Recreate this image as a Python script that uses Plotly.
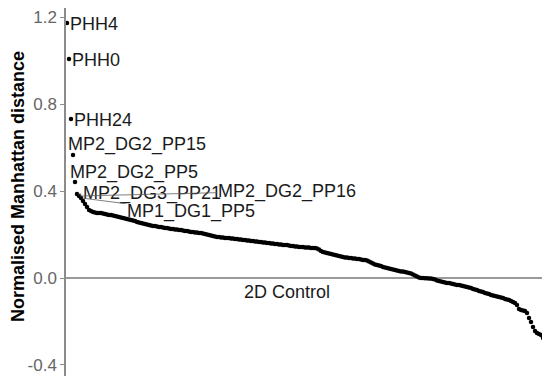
import plotly.graph_objects as go

# Normalised Manhattan distance, ranked (descending)
values = [
    1.172, 1.007, 0.731, 0.566, 0.441, 0.386, 0.377, 0.368, 0.354, 0.340,
    0.326, 0.313, 0.308, 0.303, 0.301, 0.299, 0.299, 0.299, 0.297, 0.294,
    0.292, 0.290, 0.290, 0.287, 0.285, 0.283, 0.280, 0.278, 0.276, 0.274,
    0.271, 0.269, 0.267, 0.264, 0.262, 0.257, 0.255, 0.253, 0.251, 0.248,
    0.246, 0.244, 0.241, 0.239, 0.239, 0.237, 0.234, 0.234, 0.232, 0.230,
    0.230, 0.228, 0.225, 0.225, 0.223, 0.223, 0.221, 0.221, 0.218, 0.216,
    0.216, 0.214, 0.211, 0.211, 0.209, 0.209, 0.207, 0.207, 0.205, 0.202,
    0.200, 0.198, 0.195, 0.193, 0.191, 0.189, 0.189, 0.186, 0.186, 0.184,
    0.184, 0.184, 0.182, 0.182, 0.179, 0.179, 0.177, 0.177, 0.175, 0.175,
    0.172, 0.172, 0.170, 0.170, 0.168, 0.168, 0.166, 0.166, 0.163, 0.163,
    0.161, 0.161, 0.159, 0.159, 0.156, 0.156, 0.154, 0.154, 0.152, 0.152,
    0.152, 0.149, 0.147, 0.147, 0.145, 0.145, 0.143, 0.143, 0.143, 0.140,
    0.140, 0.140, 0.138, 0.138, 0.138, 0.136, 0.131, 0.124, 0.120, 0.117,
    0.115, 0.113, 0.110, 0.108, 0.106, 0.103, 0.101, 0.099, 0.097, 0.094,
    0.094, 0.092, 0.092, 0.090, 0.090, 0.087, 0.087, 0.085, 0.083, 0.083,
    0.080, 0.076, 0.071, 0.067, 0.062, 0.060, 0.057, 0.055, 0.051, 0.048,
    0.046, 0.044, 0.041, 0.039, 0.037, 0.034, 0.032, 0.030, 0.030, 0.028,
    0.025, 0.023, 0.021, 0.016, 0.011, 0.007, 0.002, 0.000, 0.000, -0.001,
    -0.001, -0.002, -0.002, -0.005, -0.007, -0.011, -0.014, -0.016, -0.018, -0.021,
    -0.023, -0.023, -0.025, -0.028, -0.030, -0.032, -0.032, -0.034, -0.037, -0.039,
    -0.041, -0.044, -0.046, -0.051, -0.053, -0.055, -0.060, -0.062, -0.064, -0.069,
    -0.071, -0.074, -0.078, -0.080, -0.083, -0.085, -0.087, -0.090, -0.092, -0.097,
    -0.099, -0.101, -0.106, -0.110, -0.115, -0.124, -0.143, -0.147, -0.149, -0.152,
    -0.161, -0.184, -0.202, -0.225, -0.244, -0.253, -0.257, -0.262, -0.276, -0.290,
    -0.331, -0.377,
]
ranks = list(range(1, len(values) + 1))

# labelled samples: (rank index, text)
labels_plain = [(0, "PHH4"), (1, "PHH0"), (2, "PHH24")]
labels_above = [(3, "MP2_DG2_PP15"), (4, "MP2_DG2_PP5")]
labels_lead = [(5, "MP2_DG3_PP21"), (6, "MP2_DG2_PP16"), (7, "MP1_DG1_PP5")]
ref_label = "2D Control"
ytick_vals = [-0.4, 0.0, 0.4, 0.8, 1.2]
ytick_text = ["-0.4", "0.0", "0.4", "0.8", "1.2"]

FONT = "Liberation Sans, Arial, sans-serif"
LBL = dict(size=18, color="#1a1a1a", family=FONT)

fig = go.Figure()
fig.add_trace(go.Scatter(
    x=ranks, y=values, mode="markers",
    marker=dict(color="black", size=4.5, line=dict(width=0)),
    hoverinfo="skip", showlegend=False, cliponaxis=False,
))

ann = []
for i, t in labels_plain:
    ann.append(dict(x=ranks[i], y=values[i], text=t, showarrow=False,
                    xanchor="left", yanchor="middle", xshift=1, yshift=-1,
                    font=LBL))
for i, t in labels_above:
    ann.append(dict(x=ranks[i], y=values[i], text=t, showarrow=False,
                    xanchor="left", yanchor="middle", xshift=-7, yshift=10,
                    font=LBL))
lead_offsets = {5: (75, -1), 6: (208, -5), 7: (110, 14)}
for i, t in labels_lead:
    ax, ay = lead_offsets[i]
    ann.append(dict(x=ranks[i], y=values[i], text=t, showarrow=True,
                    arrowhead=0, arrowwidth=0.8, arrowcolor="#606060",
                    ax=ax, ay=ay, standoff=1, font=LBL))
ann.append(dict(xref="paper", x=0.4566, y=0, text=ref_label, showarrow=False,
                xanchor="center", yanchor="middle", yshift=-14, font=LBL))
ann.append(dict(xref="paper", yref="paper", x=-0.0992, y=0.516,
                text="<b>Normalised Manhattan distance</b>", showarrow=False,
                textangle=-90, xanchor="center", yanchor="middle",
                font=dict(size=18, color="black", family=FONT)))

fig.update_layout(
    width=542, height=368,
    margin=dict(l=58, r=0, t=0, b=0),
    paper_bgcolor="white", plot_bgcolor="white",
    annotations=ann,
    xaxis=dict(range=[0.5, len(values) + 0.5], visible=False, showgrid=False,
               zeroline=False),
    yaxis=dict(range=[-0.4506, 1.2414], tickvals=ytick_vals, ticktext=ytick_text,
               showgrid=False, zeroline=True, zerolinecolor="#9a9a9a",
               zerolinewidth=2, showline=True, linecolor="#8c8c8c", linewidth=1.5,
               ticks="outside", ticklen=4, tickcolor="#8c8c8c", tickwidth=1,
               ticklabeloverflow="allow",
               tickfont=dict(size=17, color="#666666", family=FONT)),
    font=dict(family=FONT),
)

fig.write_html("out.html")
